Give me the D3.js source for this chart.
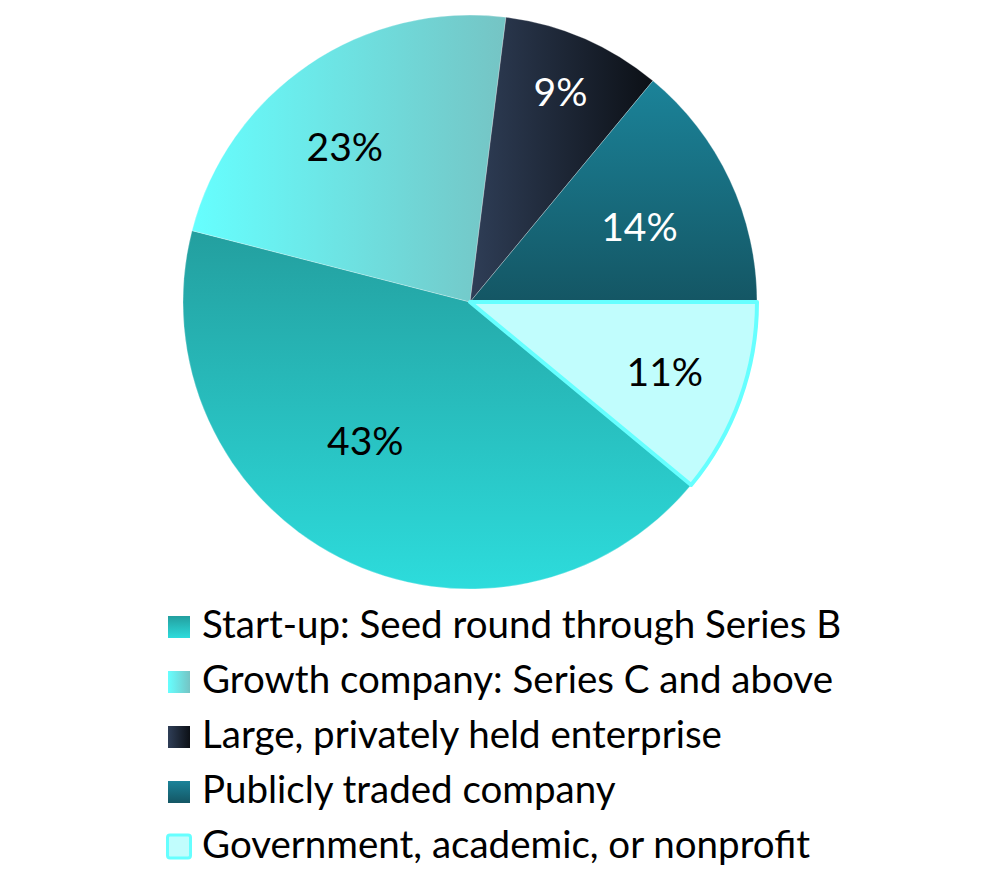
<!DOCTYPE html>
<html>
<head>
<meta charset="utf-8">
<script src="https://cdn.jsdelivr.net/npm/d3@7"></script>
<style>
  html, body { margin: 0; padding: 0; background: #fff; }
  #chart { width: 994px; height: 889px; }
  text { font-family: Lato, "Open Sans", sans-serif; }
</style>
</head>
<body>
<div id="chart"></div>
<script>
// data, in legend order
var categories = [
    'Start-up: Seed round through Series B',
    'Growth company: Series C and above',
    'Large, privately held enterprise',
    'Publicly traded company',
    'Government, academic, or nonprofit'
];
var shares = [43, 23, 9, 14, 11];
var labels = ['43%', '23%', '9%', '14%', '11%'];

// gradient stops per category: [from, to, direction]
var fills = [
    ['#239f9f', '#2ddcdc', 'v'],
    ['#66ffff', '#75c4c4', 'h'],
    ['#2f3e57', '#0c1016', 'h'],
    ['#1b8399', '#145664', 'v'],
    ['#c1fdfd', '#c1fdfd', 'v']
];
var labelColors = ['#000', '#000', '#fff', '#fff', '#000'];
// label placement: distance from centre, and angular nudge in degrees
var labelRadius = [174, 199, 228, 185, 207];
var labelNudge = [10, -4.8, 0, 1.5, 0];

var width = 994,
    height = 889,
    cx = 470,
    cy = 302,
    radius = 287;

var svg = d3.select('#chart').append('svg')
    .attr('width', width)
    .attr('height', height);

var defs = svg.append('defs');
fills.forEach(function (f, i) {
    var g = defs.append('linearGradient')
        .attr('id', 'grad' + i)
        .attr('x1', 0).attr('y1', 0)
        .attr('x2', f[2] === 'h' ? 1 : 0)
        .attr('y2', f[2] === 'v' ? 1 : 0);
    g.append('stop').attr('offset', '0%').attr('stop-color', f[0]);
    g.append('stop').attr('offset', '100%').attr('stop-color', f[1]);
});

var data = categories.map(function (c, i) {
    return { name: c, value: shares[i], label: labels[i], idx: i };
});

// pie starts the first slice at about 4 o'clock and runs clockwise
var pie = d3.pie()
    .sort(null)
    .startAngle(Math.PI * 0.72)
    .endAngle(Math.PI * 0.72 + 2 * Math.PI)
    .value(function (d) { return d.value; });

var arc = d3.arc()
    .innerRadius(0)
    .outerRadius(radius);

var g = svg.append('g')
    .attr('transform', 'translate(' + cx + ',' + cy + ')');

var arcs = pie(data);

// draw the outlined slice last so its border sits on top
var order = arcs.slice().sort(function (a, b) {
    return (a.data.idx === 4) - (b.data.idx === 4);
});

g.selectAll('.slice')
    .data(order)
    .enter()
    .append('path')
    .attr('class', 'slice')
    .attr('d', arc)
    .style('fill', function (d) { return 'url(#grad' + d.data.idx + ')'; })
    .style('stroke', function (d) { return d.data.idx === 4 ? '#66ffff' : 'rgba(255,255,255,0.35)'; })
    .style('stroke-width', function (d) { return d.data.idx === 4 ? 4 : 0.75; })
    .style('stroke-linejoin', 'round');

g.selectAll('.pct')
    .data(arcs)
    .enter()
    .append('text')
    .attr('class', 'pct')
    .attr('transform', function (d) {
        var r = labelRadius[d.data.idx];
        var a = (d.startAngle + d.endAngle) / 2 + labelNudge[d.data.idx] * Math.PI / 180;
        return 'translate(' + (r * Math.sin(a)) + ',' + (-r * Math.cos(a)) + ')';
    })
    .attr('text-anchor', 'middle')
    .attr('dy', '.35em')
    .style('font-size', '39px')
    .style('fill', function (d) { return labelColors[d.data.idx]; })
    .text(function (d) { return d.data.label; });

// legend
var legend = svg.append('g')
    .attr('transform', 'translate(168,616)');

var item = legend.selectAll('.item')
    .data(data)
    .enter()
    .append('g')
    .attr('class', 'item')
    .attr('transform', function (d, i) { return 'translate(0,' + (i * 55) + ')'; });

item.append('rect')
    .attr('x', function (d) { return d.idx === 4 ? -0.5 : 0; })
    .attr('y', function (d) { return d.idx === 4 ? -1 : 0; })
    .attr('width', function (d) { return d.idx === 4 ? 23 : 22; })
    .attr('height', function (d) { return d.idx === 4 ? 23 : 22; })
    .attr('rx', function (d) { return d.idx === 4 ? 2.5 : 0; })
    .style('fill', function (d) { return 'url(#grad' + d.idx + ')'; })
    .style('stroke', function (d) { return d.idx === 4 ? '#66ffff' : 'none'; })
    .style('stroke-width', 3);

item.append('text')
    .attr('x', 34)
    .attr('y', 22)
    .style('font-size', '38.5px')
    .style('fill', '#000')
    .text(function (d) { return d.name; });
</script>
</body>
</html>
